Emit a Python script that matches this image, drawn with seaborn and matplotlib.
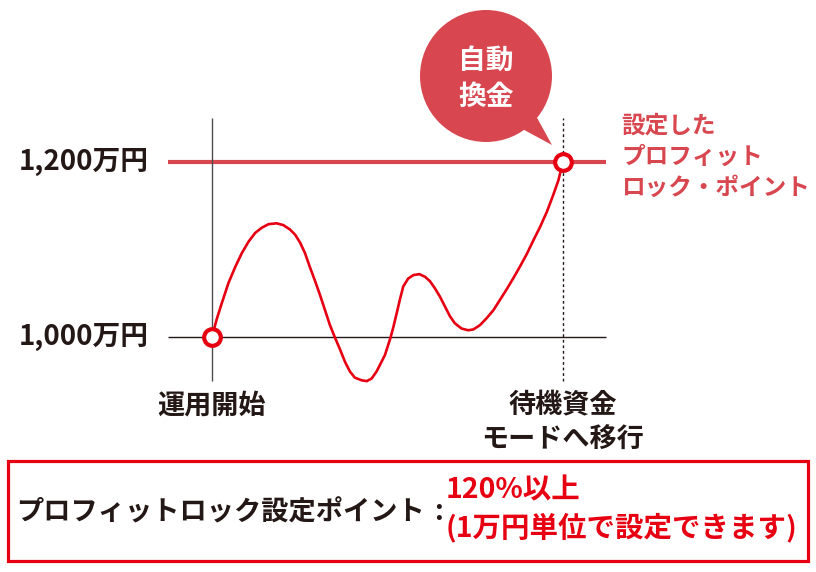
import numpy as np
import pandas as pd
import matplotlib.pyplot as plt
import seaborn as sns
from matplotlib.patches import Circle, Polygon, Rectangle

# time axis (0 = start, 100 = lock point) and balance in 万円
months = [0, 1.3, 2.8, 4.7, 6.6, 8.5, 10.4, 12.3, 14.2, 16.1, 18.4, 20.3, 22.2,
          23.7, 25.1, 26.5, 27.9, 29.3, 30.8, 32.2, 33.6, 35.0, 36.5, 37.9, 39.3,
          40.7, 42.6, 44.1, 45.5, 46.9, 48.3, 49.3, 50.9, 51.7, 52.6, 53.6, 54.5,
          55.9, 57.4, 59.1, 60.7, 62.1, 63.5, 65.0, 66.4, 67.8, 69.2, 71.1, 73.0,
          74.5, 76.4, 78.3, 80.2, 82.1, 84.0, 85.8, 87.8, 89.7, 91.5, 93.5, 95.4,
          97.2, 98.7, 100]
balance = [1000, 1020, 1039, 1062, 1080, 1096, 1109, 1119, 1125, 1129, 1130, 1128, 1123,
           1117, 1108, 1096, 1080, 1065, 1048, 1031, 1014, 1000, 986, 972, 961,
           954, 951, 950, 953, 961, 972, 980, 1000, 1012, 1027, 1044, 1058,
           1067, 1071, 1072, 1069, 1064, 1056, 1046, 1035, 1024, 1016, 1010, 1008,
           1009, 1014, 1022, 1031, 1043, 1055, 1067, 1081, 1095, 1110, 1126, 1143,
           1162, 1179, 1200]
levels = [1000, 1200]
level_labels = ["1,000万円", "1,200万円"]
x_labels = ["運用開始", "待機資金\nモードへ移行"]
lock_label = "設定した\nプロフィット\nロック・ポイント"
bubble_text = "自動\n換金"
box_title = "プロフィットロック設定ポイント"
box_value = ["120%以上", "(1万円単位で設定できます)"]

RED = "#e60012"
PALE = "#d8474f"
INK = "#231815"

sns.set_theme(style="white")
plt.rcParams["font.family"] = ["Noto Sans CJK JP", "DejaVu Sans"]

fig = plt.figure(figsize=(8.16, 5.72), dpi=100)
ax = fig.add_axes([0, 0, 1, 1])
ax.set_xlim(-60.4, 172.1)
ax.set_ylim(732.3, 1384.7)
ax.axis("off")

df = pd.DataFrame({"month": months, "balance": balance})

# guide lines
ax.hlines(levels[0], -12.5, 112.3, color=INK, lw=1.0, zorder=1)
ax.hlines(levels[1], -12.5, 112.3, color=PALE, lw=3.0, zorder=1)
ax.vlines(months[0], 950, 1250, color="#4d4d4d", lw=1.0, zorder=1)
ax.vlines(months[-1], 950, 1250, color=INK, lw=1.0, ls=(0, (2, 2)), zorder=1)

sns.lineplot(data=df, x="month", y="balance", ax=ax, color=RED, lw=1.9,
             sort=False, estimator=None, zorder=3)
ax.plot([months[0], months[-1]], [balance[0], balance[-1]], "o", ms=12,
        mfc="white", mec=RED, mew=3, zorder=4)

for lv, lab in zip(levels, level_labels):
    ax.text(-18.0, lv, lab, ha="right", va="center", fontsize=20,
            fontweight="bold", color=INK)

ax.text(months[0], 938, x_labels[0], ha="center", va="top", fontsize=19.5,
        fontweight="bold", color=INK)
ax.text(months[-1], 938, x_labels[1], ha="center", va="top", fontsize=19.5,
        fontweight="bold", color=INK, linespacing=1.3)

# overlay in pixel units for the callouts and the box
ov = fig.add_axes([0, 0, 1, 1])
ov.set_xlim(0, 816)
ov.set_ylim(572, 0)
ov.axis("off")
ov.patch.set_alpha(0)

ov.add_patch(Circle((486, 76), 66, color=PALE, lw=0))
ov.add_patch(Polygon([(530, 105), (552, 145), (515, 125)], closed=True, color=PALE, lw=0))
ov.text(486, 79, bubble_text, ha="center", va="center", fontsize=20,
        fontweight="bold", color="white", linespacing=1.4)

ov.text(621, 114, lock_label, ha="left", va="top", fontsize=17,
        fontweight="bold", color=PALE, linespacing=1.35)

ov.add_patch(Rectangle((8, 461), 800, 100, fill=False, ec=RED, lw=2.3))
ov.text(16, 512, box_title, ha="left", va="center", fontsize=19.6,
        fontweight="bold", color=INK)
ov.text(438, 512, ":", ha="center", va="center", fontsize=19.5,
        fontweight="bold", color=INK)
ov.text(446, 490, box_value[0], ha="left", va="center", fontsize=20.5,
        fontweight="bold", color=RED)
ov.text(446, 528, box_value[1], ha="left", va="center", fontsize=20.5,
        fontweight="bold", color=RED)

fig.savefig("out.png", dpi=100)
